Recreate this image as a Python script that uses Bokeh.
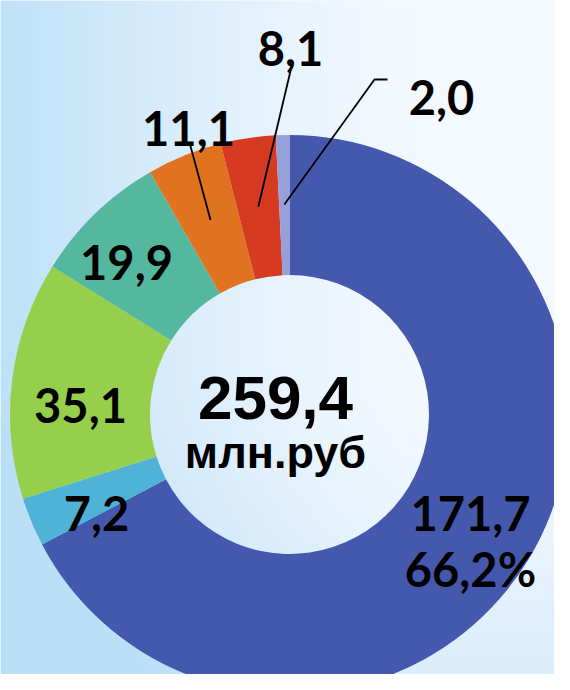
import numpy as np
from bokeh.plotting import figure
from bokeh.models import ColumnDataSource
from bokeh.core.properties import value
from bokeh.embed import file_html
from bokeh.resources import INLINE

# ---- data ----
values = [171.7, 7.2, 35.1, 19.9, 11.1, 8.1, 2.0]
colors = ["#4459ae", "#4fb3d7", "#95cf4b", "#53b89e", "#e0731f", "#d63a20", "#97a0d9"]
total_label = 259.4
unit_label = "млн.руб"

def fmt(v):
    return f"{v:.1f}".replace(".", ",")

# ---- layout ----
W, H = 554, 674
OX, OY = 0, 0
cx, cy = 289, -414
R_out, R_in = 279.5, 139.5

p = figure(width=W, height=H, output_backend="svg", toolbar_location=None,
           x_range=(OX, OX + W), y_range=(-(OY + H), -OY), min_border=0)
p.axis.visible = False
p.grid.visible = False
p.outline_line_color = None
p.background_fill_color = "#eef6fd"
p.border_fill_color = "#eef6fd"

# background gradient
gx = np.linspace(0, 1, 140)
gy = np.linspace(0, 1, 170)
X, Y = np.meshgrid(gx, gy)   # Y: 0 bottom ... 1 top
fx = np.clip(1.0 - X / 0.75, 0, 1) ** 1.3
fy = np.clip(1.0 - Y / 0.45, 0, 1) ** 1.5 * 0.45
f = np.clip(fx * 0.95 + fy, 0, 1)
light = np.array([244, 249, 255])
blue = np.array([188, 223, 248])
rgb = light[None, None, :] * (1 - f[..., None]) + blue[None, None, :] * f[..., None]
img = np.zeros((170, 140), dtype=np.uint32)
view = img.view(dtype=np.uint8).reshape((170, 140, 4))
view[..., 0] = rgb[..., 0].astype(np.uint8)
view[..., 1] = rgb[..., 1].astype(np.uint8)
view[..., 2] = rgb[..., 2].astype(np.uint8)
view[..., 3] = 255
p.image_rgba(image=[img], x=OX, y=-(OY + H), dw=W, dh=H)

# wedges (clockwise from 12 o'clock)
vals = np.array(values)
tot = vals.sum()
cum = np.concatenate([[0], np.cumsum(vals)])
start = np.pi / 2 - 2 * np.pi * cum[:-1] / tot
end = np.pi / 2 - 2 * np.pi * cum[1:] / tot
src = ColumnDataSource(dict(start=start, end=end, color=colors))
p.annular_wedge(x=cx, y=cy, inner_radius=R_in, outer_radius=R_out,
                start_angle="start", end_angle="end", direction="clock",
                fill_color="color", line_color=None, source=src)

# leader lines for small slices (orange, red, purple)
mid = (start + end) / 2
lead_idx = [4, 5, 6]
lead_top = [(189, -142), (292, -62), (374, -79)]
r_lead = 210
xs, ys = [], []
for i, (tx, ty) in zip(lead_idx, lead_top):
    ex = cx + r_lead * np.cos(mid[i])
    ey = cy + r_lead * np.sin(mid[i])
    if i == 6:
        xs.append([ex, tx, tx + 13]); ys.append([ey, ty, ty])
    else:
        xs.append([ex, tx]); ys.append([ey, ty])
p.multi_line(xs=xs, ys=ys, line_color="black", line_width=1.8)

# value labels
lab_text = [fmt(values[0]), f"{values[0] / total_label * 100:.1f}%".replace(".", ","),
            fmt(values[1]), fmt(values[2]), fmt(values[3]), fmt(values[4]),
            fmt(values[5]), fmt(values[6])]
lab_x = [470, 470, 96, 80, 126, 188, 290, 441]
lab_y = [-513, -568, -513, -405, -262, -128, -48, -97]
p.text(x=lab_x, y=lab_y, text=lab_text, text_align="center", text_baseline="alphabetic",
       text_font=value("Lato"), text_font_style="bold", text_font_size="47px",
       text_color="black")

# center labels
p.text(x=[275], y=[-397], text=[fmt(total_label)], text_align="center",
       text_baseline="alphabetic", text_font=value("Liberation Sans"),
       text_font_style="bold", text_font_size="62px", text_color="black")
p.text(x=[275], y=[-452], text=[unit_label], text_align="center",
       text_baseline="alphabetic", text_font=value("Liberation Sans"),
       text_font_style="bold", text_font_size="45px", text_color="black")

open("out.html", "w").write(file_html(p, INLINE))
